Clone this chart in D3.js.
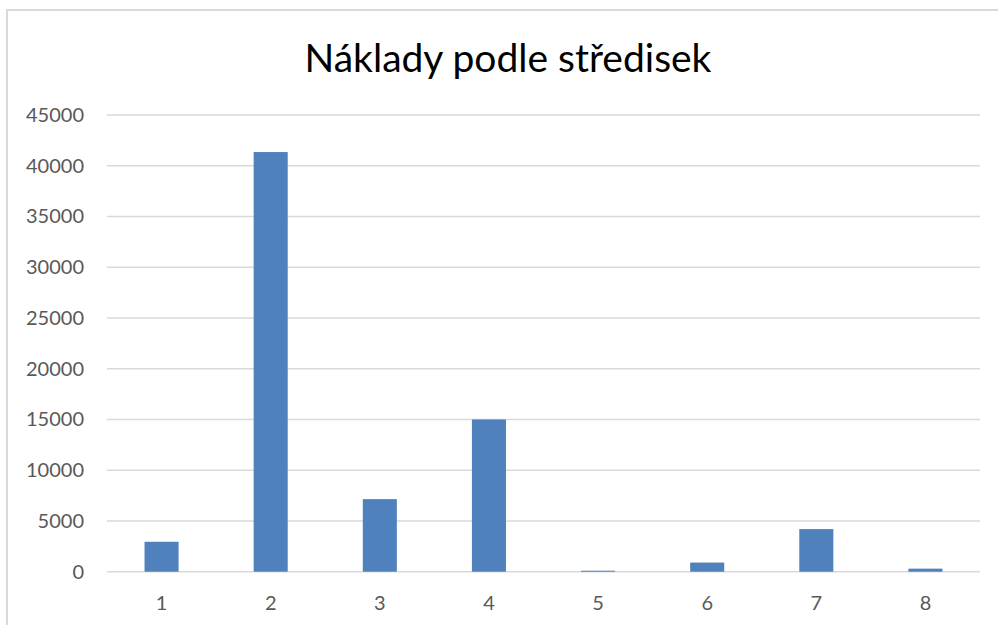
<!DOCTYPE html>
<html>
<head>
<meta charset="utf-8">
<script src="https://cdn.jsdelivr.net/npm/d3@7"></script>
<style>
  html, body { margin: 0; padding: 0; background: #fff; }
  svg { display: block; }
</style>
</head>
<body>
<svg id="chart" width="998" height="625"></svg>
<script>
const title = "Náklady podle středisek";
const categories = ["1", "2", "3", "4", "5", "6", "7", "8"];
const values = [2950, 41350, 7150, 15000, 100, 900, 4200, 300];
const yTicks = [0, 5000, 10000, 15000, 20000, 25000, 30000, 35000, 40000, 45000];

const svg = d3.select("#chart");
const W = 998, H = 625;
const plot = { left: 107, right: 980, top: 115, bottom: 571.7 };

// chart area border
svg.append("rect")
  .attr("x", 7).attr("y", 10)
  .attr("width", W + 20).attr("height", H + 20)
  .attr("fill", "#fff")
  .attr("stroke", "#d9d9d9")
  .attr("stroke-width", 2);

const x = d3.scaleBand()
  .domain(categories)
  .range([plot.left, plot.right])
  .paddingInner(0.688)
  .paddingOuter(0.344);

const y = d3.scaleLinear()
  .domain([0, 45000])
  .range([plot.bottom, plot.top]);

// gridlines
svg.append("g")
  .selectAll("line")
  .data(yTicks)
  .join("line")
  .attr("x1", plot.left).attr("x2", plot.right)
  .attr("y1", d => y(d)).attr("y2", d => y(d))
  .attr("stroke", "#d9d9d9")
  .attr("stroke-width", 1.5);

// y axis labels
const yAxis = d3.axisLeft(y).tickValues(yTicks).tickSize(0).tickPadding(0).tickFormat(d3.format("d"));
const gy = svg.append("g")
  .attr("transform", `translate(84,0)`)
  .call(yAxis);
gy.select(".domain").remove();
gy.selectAll("text")
  .attr("font-family", "Lato, 'Open Sans', sans-serif")
  .attr("font-size", 20)
  .attr("fill", "#595959");

// bars
svg.append("g")
  .selectAll("rect")
  .data(values)
  .join("rect")
  .attr("x", (d, i) => x(categories[i]))
  .attr("width", x.bandwidth())
  .attr("y", d => y(d))
  .attr("height", d => y(0) - y(d))
  .attr("fill", "#4f81bd");

// x axis labels
const xAxis = d3.axisBottom(x).tickSize(0).tickPadding(0);
const gx = svg.append("g")
  .attr("transform", `translate(0,${plot.bottom})`)
  .call(xAxis);
gx.select(".domain").remove();
gx.selectAll("text")
  .attr("font-family", "Lato, 'Open Sans', sans-serif")
  .attr("font-size", 20)
  .attr("fill", "#595959")
  .attr("dy", null)
  .attr("y", 38.5);

// title
const t = svg.append("text")
  .attr("x", 508)
  .attr("y", 71.7)
  .attr("text-anchor", "middle")
  .attr("font-family", "Lato, 'Open Sans', sans-serif")
  .attr("font-size", 35)
  .attr("fill", "#000")
  .text(title);
const len = t.node().getComputedTextLength();
t.attr("font-size", 35 * 407 / len);
</script>
</body>
</html>
